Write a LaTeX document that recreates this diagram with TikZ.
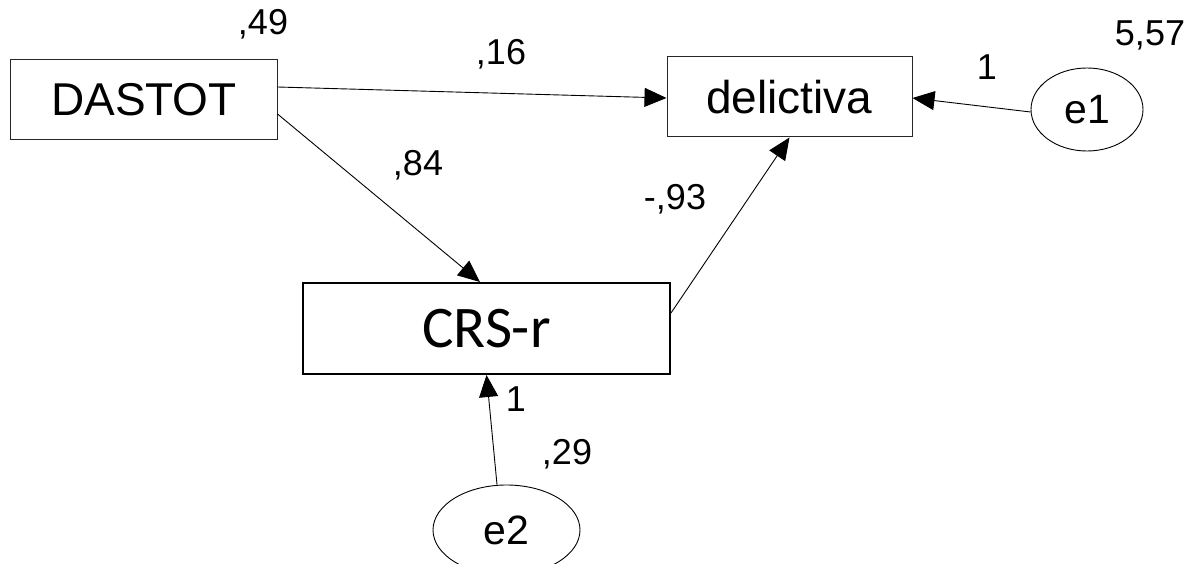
\documentclass[tikz,border=0pt]{standalone}
\usepackage{fontspec}
\setmainfont{Liberation Sans}
\newfontfamily\crsfont{Carlito}
\usetikzlibrary{arrows.meta,shapes.geometric}

\tikzset{
  varbox/.style={draw=black!85, line width=1bp, rectangle, inner sep=0pt,
    font=\fontsize{46bp}{50bp}\selectfont},
  thickbox/.style={draw=black, line width=2bp, rectangle, inner sep=0pt,
    font=\crsfont\fontsize{59bp}{64bp}\selectfont},
  errell/.style={draw=black, line width=0.9bp, ellipse, inner sep=0pt,
    font=\fontsize{41bp}{46bp}\selectfont},
  coef/.style={inner sep=0pt, anchor=base, font=\fontsize{36bp}{40bp}\selectfont},
  path/.style={draw=black, line width=0.9bp,
    -{Triangle[length=22bp,width=19bp]}},
}

\begin{document}
\begin{tikzpicture}[x=1bp, y=-1bp]
  \useasboundingbox (0,0) rectangle (1196,564);
  \begin{scope}
    \clip (0,0) rectangle (1196,564);

    % observed variables
    \node[varbox, minimum width=266bp, minimum height=80bp] (dastot) at (144,100) {DASTOT};
    \node[varbox, minimum width=245bp, minimum height=80bp] (delic) at (789.5,97) {delictiva};
    \node[thickbox, minimum width=367bp, minimum height=91bp] (crs) at (486.5,328.5) {CRS-r};

    % error terms
    \node[errell, minimum width=112bp, minimum height=83bp] (e1) at (1087,109.5) {e1};
    \node[errell, minimum width=147bp, minimum height=90bp] (e2) at (506.5,530) {e2};

    % regression paths
    \draw[path] ([yshift=13bp]dastot.east) -- ([yshift=-1bp]delic.west);
    \draw[path] ([yshift=-14bp]dastot.east) -- ([xshift=-6.5bp]crs.north);
    \draw[path] ([yshift=15.5bp]crs.east) -- (delic.south);
    \draw[path] ([yshift=-2.5bp]e1.west) -- ([yshift=-1bp]delic.east);
    \draw[path] ([xshift=-9.5bp]e2.north) -- (crs.south);

    % estimates
    \node[coef] (v49) at (263,35) {,49};
    \node[coef] (b16) at (501,65) {,16};
    \node[coef] (b84) at (418,176) {,84};
    \node[coef] (b93) at (675,210) {-,93};
    \node[coef] (w1) at (987,80) {1};
    \node[coef] (v557) at (1150,46) {5,57};
    \node[coef] (w2) at (516,411) {1};
    \node[coef] (v29) at (567,464) {,29};
  \end{scope}
\end{tikzpicture}
\end{document}
